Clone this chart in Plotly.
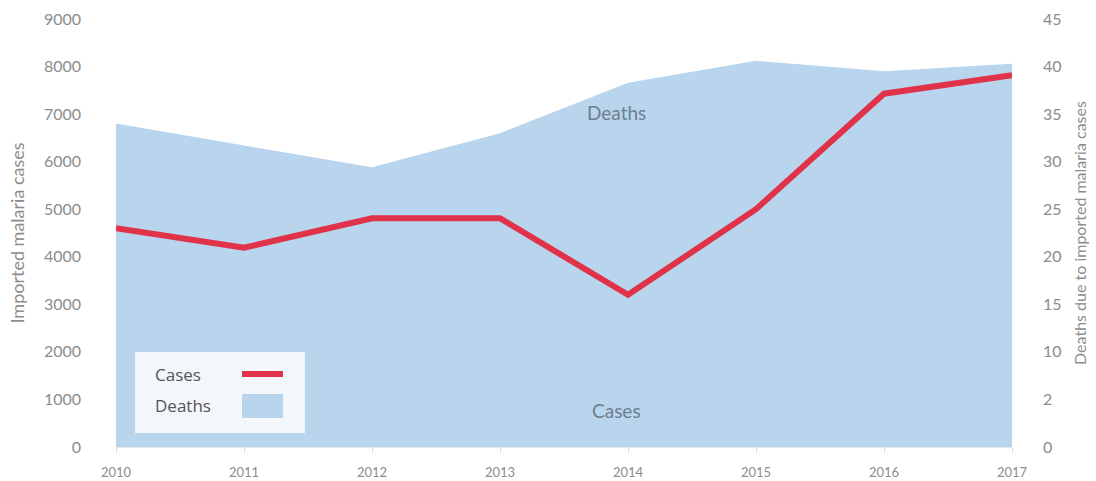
import plotly.graph_objects as go

years = [2010, 2011, 2012, 2013, 2014, 2015, 2016, 2017]
cases = [4600, 4190, 4810, 4810, 3200, 5000, 7430, 7820]
deaths = [34.0, 31.7, 29.4, 33.0, 38.3, 40.6, 39.5, 40.3]

left_ticks = [0, 1000, 2000, 3000, 4000, 5000, 6000, 7000, 8000, 9000]
right_tickvals = [0, 5, 10, 15, 20, 25, 30, 35, 40, 45]
right_ticktext = ["0", "2", "10", "15", "20", "25", "30", "35", "40", "45"]

AREA = "#b8d5ed"
LINE = "#e0334a"
GRAY = "#8c8c8c"
FONT = "Lato"

fig = go.Figure()
fig.add_trace(go.Scatter(x=years, y=deaths, yaxis="y", mode="lines", fill="tozeroy",
                         fillcolor=AREA, line=dict(width=0, color=AREA), name="Deaths",
                         showlegend=False))
fig.add_trace(go.Scatter(x=years, y=cases, yaxis="y2", mode="lines",
                         line=dict(width=6, color=LINE), name="Cases", showlegend=False))

fig.update_layout(
    width=1096, height=481,
    margin=dict(l=116, r=84, t=19, b=34),
    paper_bgcolor="white", plot_bgcolor="white",
    font=dict(family=FONT, color=GRAY, size=13),
    xaxis=dict(range=[2010, 2017], tickvals=years, showgrid=False, zeroline=False,
               showline=True, linecolor="#e6e6e6", ticks="outside", ticklen=5, automargin=False,
               tickcolor="#dddddd", ticklabelstandoff=8, tickfont=dict(size=13, color=GRAY)),
    yaxis=dict(range=[0, 45], side="right", tickvals=right_tickvals, ticktext=right_ticktext,
               showgrid=False, zeroline=False, showline=False, ticklabelstandoff=30, automargin=False,
               tickfont=dict(size=16, color=GRAY),
               title=dict(text="Deaths due to imported malaria cases", font=dict(size=16, color=GRAY),
                          standoff=14)),
    yaxis2=dict(range=[0, 9000], side="left", overlaying="y", tickvals=left_ticks, automargin=False,
                showgrid=False, zeroline=False, showline=False, ticklabelstandoff=34,
                tickfont=dict(size=16, color=GRAY),
                title=dict(text="Imported malaria cases", font=dict(size=18, color=GRAY),
                           standoff=14)),
    showlegend=False,
)

# In-chart labels
fig.add_annotation(x=2013.91, y=7030, xref="x", yref="y2", text="Deaths", showarrow=False,
                   font=dict(family=FONT, size=19, color="#6f7e8e"))
fig.add_annotation(x=2013.91, y=760, xref="x", yref="y2", text="Cases", showarrow=False,
                   font=dict(family=FONT, size=19, color="#6f7e8e"))

# Custom legend (text left, symbol right)
fig.add_shape(type="rect", xref="paper", yref="paper", x0=(135-116)/896, x1=(305-116)/896,
              y0=(447-433)/428, y1=(447-352)/428, fillcolor="#f3f6fb", line=dict(width=0), layer="above")
fig.add_annotation(xref="paper", yref="paper", x=(153-116)/896, y=(447-374)/428, xanchor="left",
                   yanchor="middle", text="Cases", showarrow=False,
                   font=dict(family="Open Sans", size=17, color="#555555"))
fig.add_annotation(xref="paper", yref="paper", x=(153-116)/896, y=(447-405)/428, xanchor="left",
                   yanchor="middle", text="Deaths", showarrow=False,
                   font=dict(family="Open Sans", size=17, color="#555555"))
fig.add_shape(type="line", xref="paper", yref="paper", x0=(242-116)/896, x1=(283-116)/896,
              y0=(447-374)/428, y1=(447-374)/428, line=dict(color=LINE, width=6), layer="above")
fig.add_shape(type="rect", xref="paper", yref="paper", x0=(242-116)/896, x1=(283-116)/896,
              y0=(447-418)/428, y1=(447-394)/428, fillcolor=AREA, line=dict(width=0), layer="above")

fig.write_html("out.html")
